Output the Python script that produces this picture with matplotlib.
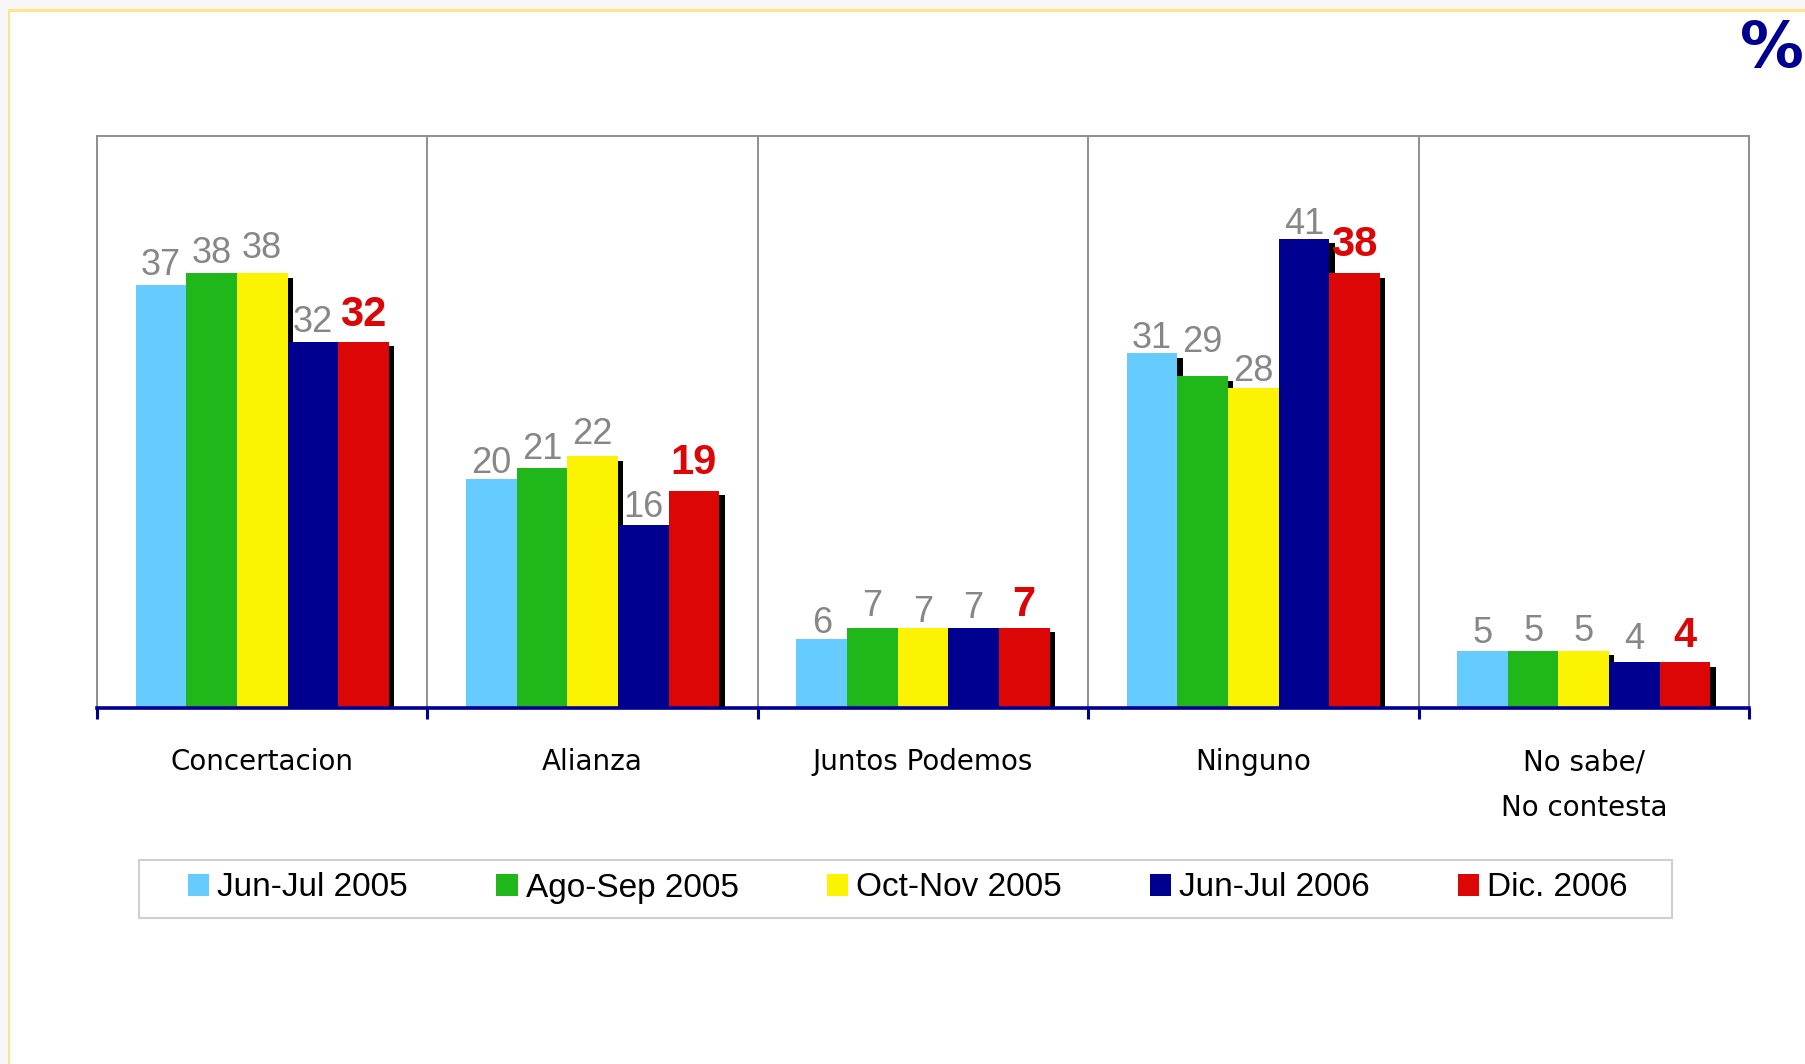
import numpy as np
import matplotlib
matplotlib.use("Agg")
import matplotlib.pyplot as plt
from matplotlib.patches import Patch, Rectangle

# datos
categorias = ["Concertacion", "Alianza", "Juntos Podemos", "Ninguno", "No sabe/\nNo contesta"]
periodos = ["Jun-Jul 2005", "Ago-Sep 2005", "Oct-Nov 2005", "Jun-Jul 2006", "Dic. 2006"]
jun_jul_2005 = [37, 20, 6, 31, 5]
ago_sep_2005 = [38, 21, 7, 29, 5]
oct_nov_2005 = [38, 22, 7, 28, 5]
jun_jul_2006 = [32, 16, 7, 41, 4]
dic_2006 = [32, 19, 7, 38, 4]
series = [jun_jul_2005, ago_sep_2005, oct_nov_2005, jun_jul_2006, dic_2006]

colores = ["#66CCFF", "#1FB71A", "#FCF303", "#000090", "#DD0606"]
# separacion (px) entre la barra y su etiqueta, como en el original
gap_etiquetas = [
    [10, 6, 6, 5, 8],
    [10, 9, 12, 24, 10],
    [15, 12, 6, 7, 10],
    [10, 8, 10, 5, 13],
    [16, 17, 12, 17, 15],
]

W, H = 1806, 1064
fig = plt.figure(figsize=(W / 100, H / 100), dpi=100)
fig.patch.set_facecolor("white")

# marco de la pagina
fig.add_artist(Rectangle((0, 0), 8 / W, 1, transform=fig.transFigure, color="#f7f7f7", lw=0))
fig.add_artist(Rectangle((0, 1 - 9 / H), 1, 9 / H, transform=fig.transFigure, color="#f7f7f7", lw=0))
fig.add_artist(Rectangle((8 / W, 0), 2.5 / W, 1 - 9 / H, transform=fig.transFigure, color="#fde68a", lw=0))
fig.add_artist(Rectangle((8 / W, 1 - 11.5 / H), 1, 2.5 / H, transform=fig.transFigure, color="#fde68a", lw=0))

ax = fig.add_axes([97 / W, 356 / H, 1652 / W, 572 / H])

n = len(series)
ancho = 0.1533
x = np.arange(len(categorias))
dx, dy = 0.016, 0.38

for j, valores in enumerate(series):
    pos = x + (j - (n - 1) / 2) * ancho
    v = np.array(valores, dtype=float)
    ax.bar(pos + dx, v - dy, width=ancho, color="black", zorder=1, linewidth=0)
for j, valores in enumerate(series):
    pos = x + (j - (n - 1) / 2) * ancho
    ax.bar(pos, valores, width=ancho, color=colores[j], zorder=2, linewidth=0)
    ultimo = j == n - 1
    for i, v in enumerate(valores):
        ax.annotate(str(v), xy=(pos[i], v), xytext=(0, gap_etiquetas[j][i]),
                    textcoords="offset pixels", ha="center", va="baseline",
                    fontsize=30 if ultimo else 26,
                    fontweight="bold" if ultimo else "normal",
                    color="#DD0606" if ultimo else "#878787",
                    family="Liberation Sans", zorder=4)

ax.set_xlim(-0.5, len(categorias) - 0.5)
ax.set_ylim(0, 50)
ax.set_yticks([])

ax.set_xticks(np.arange(-0.5, len(categorias), 1))
ax.set_xticklabels([])
ax.tick_params(axis="x", which="major", direction="out", length=8, width=2.2, color="#000090")
ax.set_xticks(x, labels=categorias, minor=True)
ax.tick_params(axis="x", which="minor", length=0, pad=29, labelsize=20)
for lab in ax.get_xticklabels(minor=True):
    lab.set_family("DejaVu Sans")
    lab.set_linespacing(1.8)
    lab.set_multialignment("center")

ax.set_axisbelow(True)
ax.grid(axis="x", which="major", color="#8f8f8f", lw=1.4)
for s in ["left", "right", "top"]:
    ax.spines[s].set_color("#8f8f8f")
    ax.spines[s].set_linewidth(1.4)
ax.spines["bottom"].set_color("#000090")
ax.spines["bottom"].set_linewidth(2.6)
ax.spines["bottom"].set_zorder(5)

# leyenda
handles = [Patch(facecolor=c, edgecolor="none") for c in colores]
fig.legend(handles, periodos, loc="center", ncol=5, mode="expand",
           bbox_to_anchor=(188 / W, 1 - 888 / H, 1440 / W, 0),
           frameon=False, borderpad=0, borderaxespad=0,
           handlelength=0.64, handleheight=0.64, handletextpad=0.24,
           prop={"family": "Liberation Sans", "size": 24})
fig.add_artist(Rectangle((139 / W, 1 - 918 / H), 1533 / W, 58 / H, transform=fig.transFigure,
                         fill=False, edgecolor="#d0d0d0", lw=1.5))

fig.text(1740 / W, 1 - 67 / H, "%", fontsize=46, fontweight="bold", color="#000090",
         ha="left", va="baseline", family="DejaVu Sans")

fig.savefig("out.png", dpi=100)
